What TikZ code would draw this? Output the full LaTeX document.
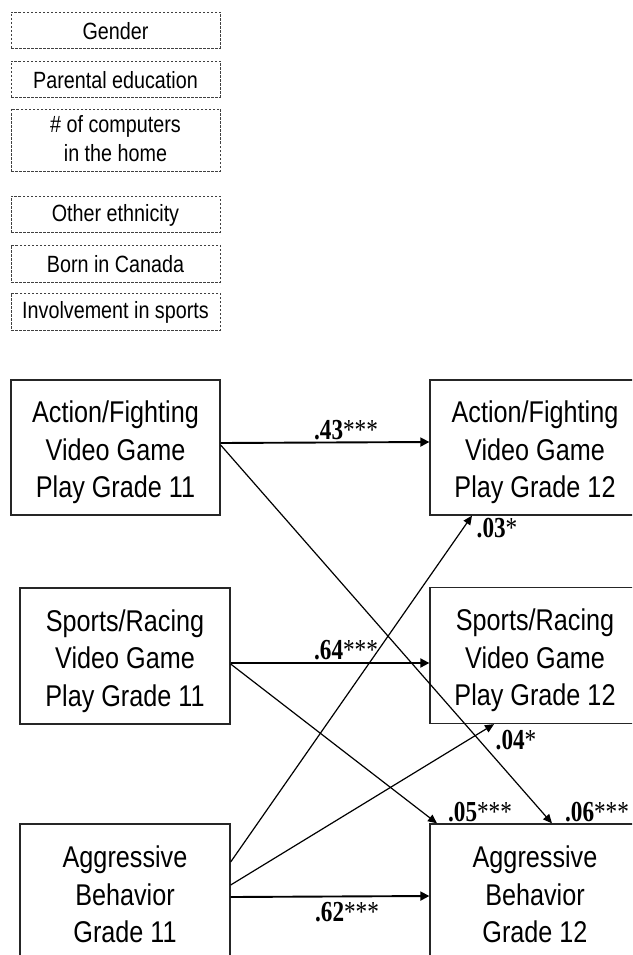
\documentclass[tikz,border=0pt]{standalone}
\usepackage{fontspec}
\setmainfont{Liberation Sans}[FakeStretch=0.84]
\newfontfamily\lblfont{Liberation Serif}[FakeStretch=0.8]
\usetikzlibrary{arrows.meta}
\newcommand{\tstrut}{\rule{0pt}{32pt}}
\newcommand{\bstrut}{\rule[-6pt]{0pt}{6pt}}
\begin{document}
\begin{tikzpicture}[x=1pt,y=-1pt,
  varbox/.style={draw=black!85, line width=1.3pt, rectangle, minimum width=210pt, minimum height=136pt, inner sep=0pt, align=center, font=\fontsize{30}{37.5}\selectfont},
  covbox/.style={draw=black!75, line width=0.9pt, dash pattern=on 2.5pt off 1.5pt, rectangle, minimum width=209pt, inner sep=0pt, align=center, font=\fontsize{23.5}{29}\selectfont},
  path/.style={line width=1.2pt, -{Triangle[length=9pt,width=8pt]}},
  mainpath/.style={line width=1.9pt, -{Triangle[length=9pt,width=9pt]}},
  coef/.style={inner sep=0pt, font=\lblfont\fontsize{29}{30}\selectfont}
]
\useasboundingbox (0,0) rectangle (632,955);
\clip (0,0) rectangle (632,955);

% covariates
\node[covbox, minimum height=36pt] (gen) at (115.5,30) {\rule{0pt}{19pt}Gender};
\node[covbox, minimum height=36pt] (par) at (115.5,79) {\rule{0pt}{19pt}Parental education};
\node[covbox, minimum height=62pt] (comp) at (115.5,140) {\rule{0pt}{20pt}\# of computers\\in the home\rule[-6pt]{0pt}{6pt}};
\node[covbox, minimum height=36pt] (eth) at (115.5,214) {\rule{0pt}{19pt}Other ethnicity};
\node[covbox, minimum height=37pt] (born) at (115.5,263.5) {\rule{0pt}{19pt}Born in Canada};
\node[covbox, minimum height=37pt] (sport) at (115.5,311.5) {\rule{0pt}{19pt}Involvement in sports};

% main variables
\node[varbox, minimum width=209pt, minimum height=135pt] (a11) at (115.5,447.5) {\tstrut Action/Fighting\\Video Game\\Play Grade 11\bstrut};
\node[varbox, minimum height=135pt] (a12) at (535,447.5) {\tstrut Action/Fighting\\Video Game\\Play Grade 12\bstrut};
\node[varbox] (s11) at (125,656) {\tstrut Sports/Racing\\Video Game\\Play Grade 11\bstrut};
\node[varbox] (s12) at (535,655.5) {\tstrut Sports/Racing\\Video Game\\Play Grade 12\bstrut};
\node[varbox] (g11) at (125,892) {\tstrut Aggressive\\Behavior\\Grade 11\bstrut};
\node[varbox] (g12) at (535,892) {\tstrut Aggressive\\Behavior\\Grade 12\bstrut};

% paths
\draw[mainpath] (a11.east |- 0,443) -- (a12.west |- 0,442);
\draw[mainpath] (s11.east |- 0,663) -- (s12.west |- 0,663);
\draw[mainpath] (g11.east |- 0,897) -- (g12.west |- 0,896);
\draw[path] (a11.east |- 0,445) -- (g12.north -| 552,0);
\draw[path] (s11.east |- 0,664) -- (g12.north -| 437,0);
\draw[path] (g11.east |- 0,862) -- (a12.south -| 472,0);
\draw[path] (g11.east |- 0,885) -- (s12.south -| 494,0);

% coefficients
\node[coef] (c43) at (346,430) {\textbf{.43}***};
\node[coef] (c64) at (346,650) {\textbf{.64}***};
\node[coef] (c62) at (347,912) {\textbf{.62}***};
\node[coef] (c03) at (497,528) {\textbf{.03}*};
\node[coef] (c04) at (516,740) {\textbf{.04}*};
\node[coef] (c05) at (480,812) {\textbf{.05}***};
\node[coef] (c06) at (597,812) {\textbf{.06}***};
\end{tikzpicture}
\end{document}
